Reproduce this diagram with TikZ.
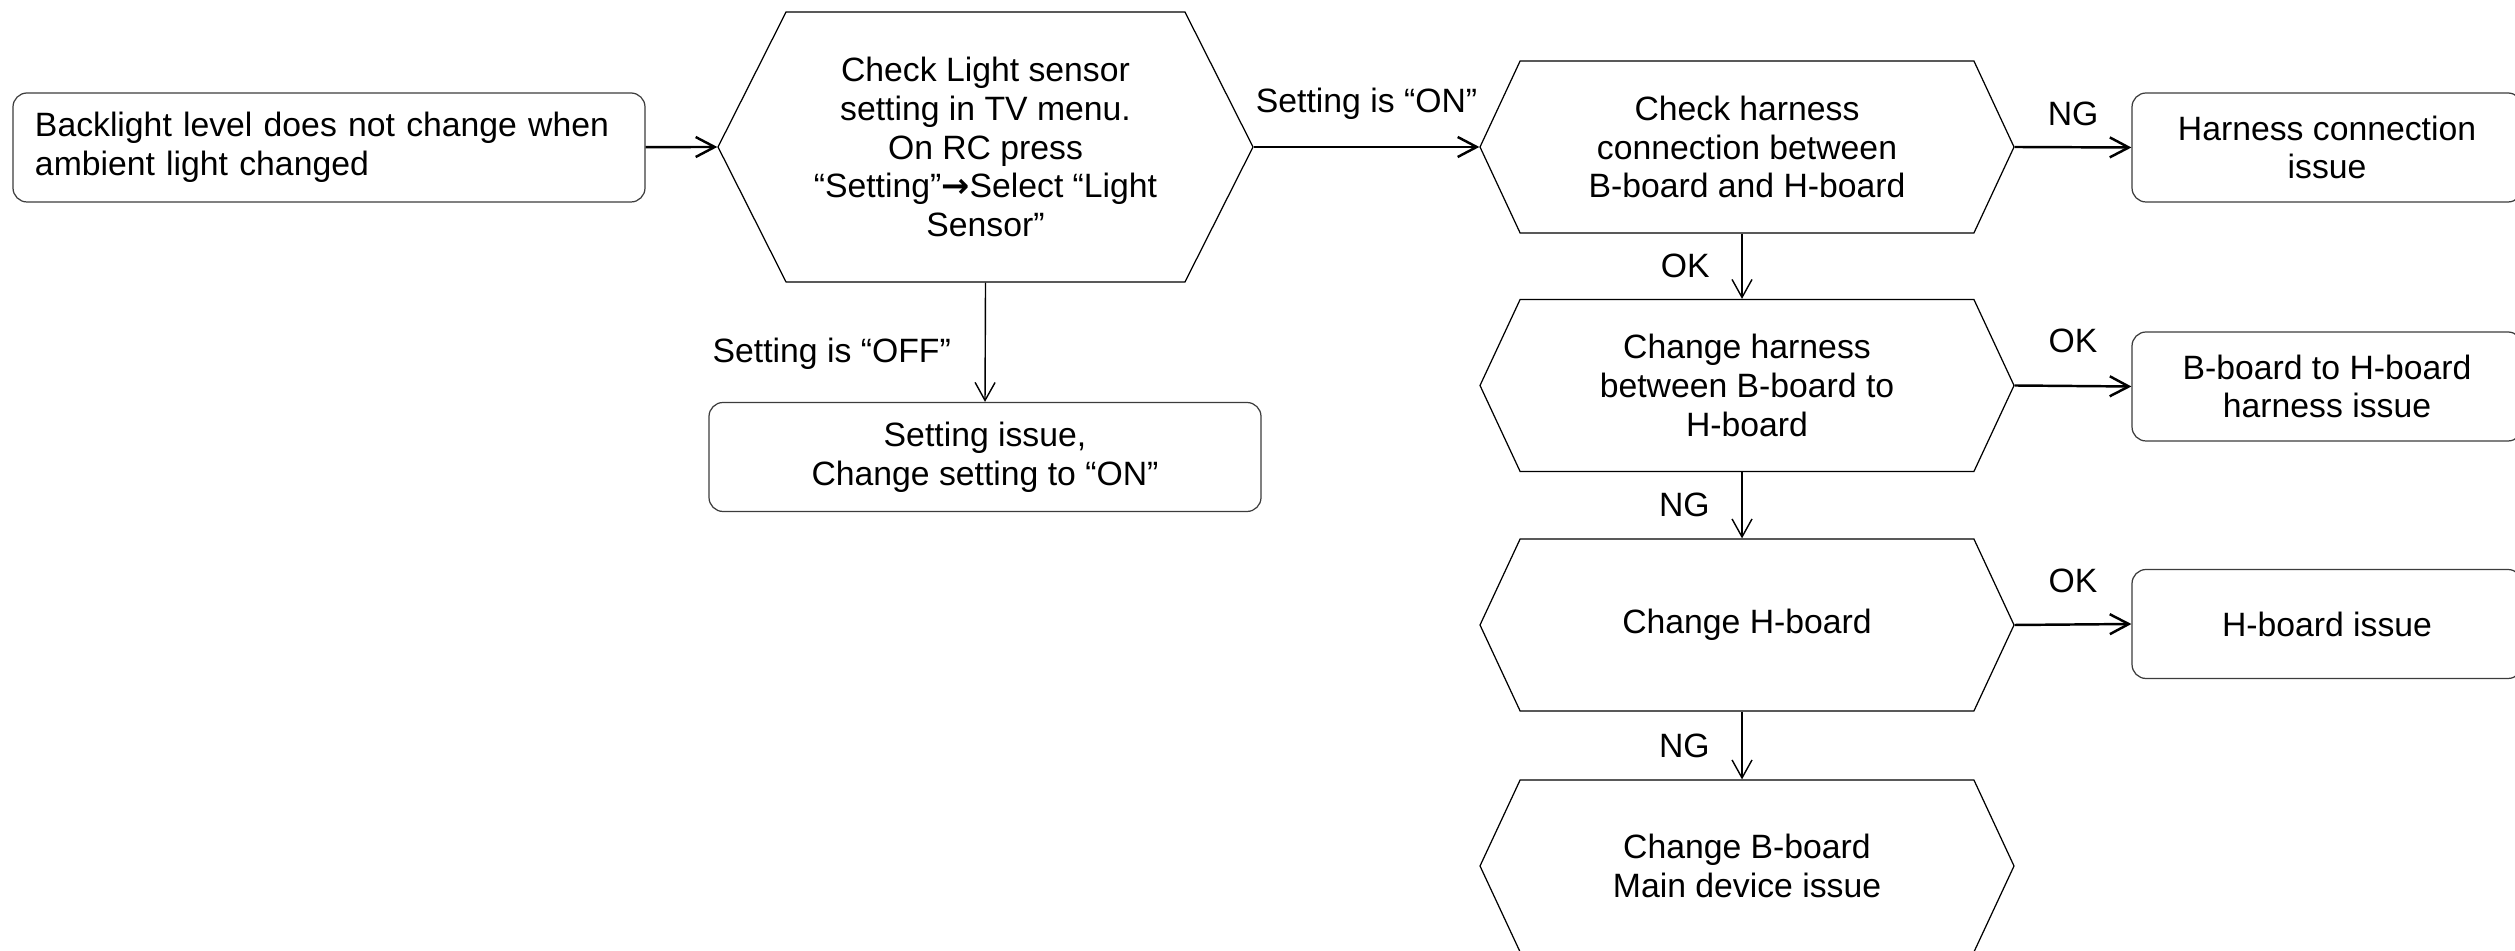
\documentclass[tikz,border=0pt]{standalone}
\usepackage{fontspec}
\setmainfont{Liberation Sans}
\newfontfamily\arrowfont{DejaVu Sans}
\usetikzlibrary{positioning, shapes.symbols, arrows.meta}
\definecolor{boxline}{HTML}{3C3C3C}

\begin{document}
\begin{tikzpicture}[font=\fontsize{9.6}{11}\selectfont,
    issuebox/.style={draw=boxline, line width=0.35pt, rounded corners=4pt, align=center,
                     minimum height=1.09cm, inner sep=0pt},
    hexbox/.style={draw, line width=0.35pt, signal, signal to=west and east, align=center,
                   minimum width=5.34cm, minimum height=1.72cm, signal pointer angle=130, inner sep=0pt},
    flow/.style={-{Straight Barb[length=1.9mm, width=2mm]}, line width=0.7pt},
    down/.style={-{Straight Barb[length=1.8mm, width=2mm]}, line width=0.4pt}]
  \useasboundingbox (0,0) rectangle (25.15,-9.51);
  \clip (0,0) rectangle (25.15,-9.51);

  % left part
  \node[issuebox, minimum width=6.32cm, text width=5.88cm, align=left] (start) at (3.29,-1.475)
    {Backlight level does not change when\\ambient light changed};
  \node[hexbox, minimum width=5.35cm, minimum height=2.70cm, signal pointer angle=126.5] (chksensor) at (9.855,-1.47)
    {Check Light sensor\\setting in TV menu.\\On RC press\\“Setting”{\arrowfont\bfseries →}Select “Light\\Sensor”};
  \node[issuebox, minimum width=5.52cm] (setissue) at (9.85,-4.57)
    {Setting issue,\\Change setting to “ON”};

  % right column
  \node[hexbox] (chkharn) at (17.47,-1.47) {Check harness\\connection between\\B-board and H-board};
  \node[hexbox] (chgharn) at (17.47,-3.855) {Change harness\\between B-board to\\H-board};
  \node[hexbox] (chghb) at (17.47,-6.25) {Change H-board};
  \node[hexbox] (chgbb) at (17.47,-8.66) {Change B-board\\Main device issue};

  \node[issuebox, minimum width=3.9cm] (harnissue) at (23.27,-1.475) {Harness connection\\issue};
  \node[issuebox, minimum width=3.9cm] (bhissue) at (23.27,-3.865) {B-board to H-board\\harness issue};
  \node[issuebox, minimum width=3.9cm] (hissue) at (23.27,-6.24) {H-board issue};

  \draw[flow] (start) -- (chksensor.west);
  \draw[flow] (chksensor.east) -- node[above=0.15cm] {Setting is “ON”} (chkharn.west);
  \draw[down] (chksensor.south) -- node[left=0.22cm, pos=0.6] {Setting is “OFF”} (setissue.north);

  \draw[flow] (chkharn.east) -- node[above=0.08cm] {NG} (harnissue.west);
  \draw[flow] (chgharn.east) -- node[above=0.2cm] {OK} (bhissue.west);
  \draw[flow] (chghb.east) -- node[above=0.19cm] {OK} (hissue.west);

  \draw[down] ([xshift=-0.05cm]chkharn.south) -- node[left=0.2cm] {OK} ([xshift=-0.05cm]chgharn.north);
  \draw[down] ([xshift=-0.05cm]chgharn.south) -- node[left=0.2cm] {NG} ([xshift=-0.05cm]chghb.north);
  \draw[down] ([xshift=-0.05cm]chghb.south) -- node[left=0.2cm] {NG} ([xshift=-0.05cm]chgbb.north);
\end{tikzpicture}
\end{document}
